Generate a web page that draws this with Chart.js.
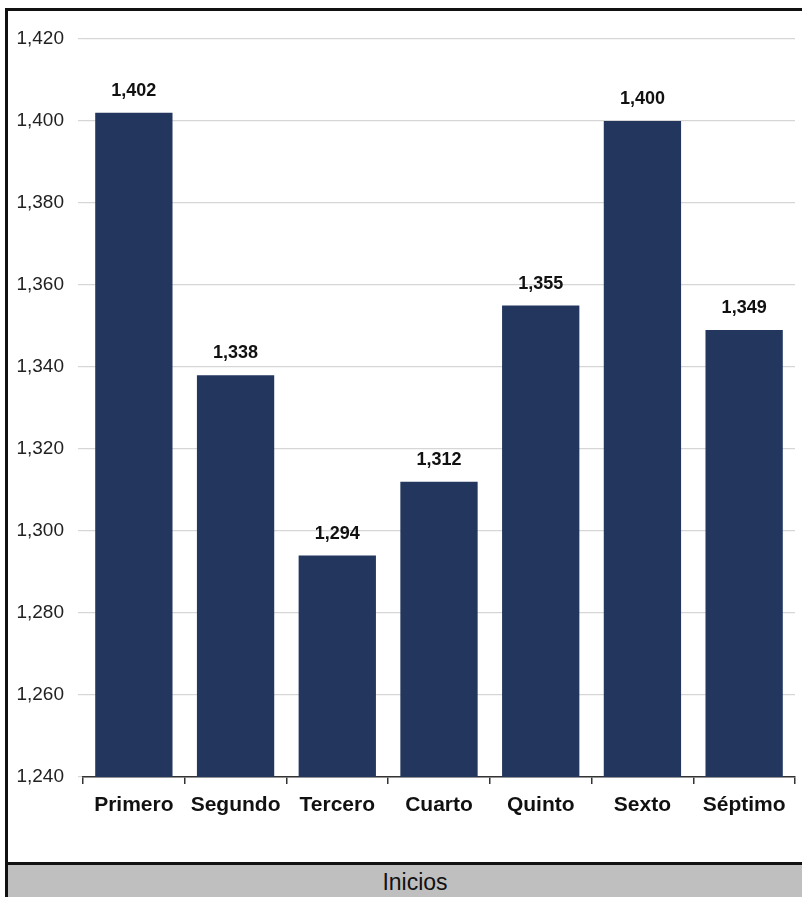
<!DOCTYPE html>
<html>
<head>
<meta charset="utf-8">
<script src="https://cdn.jsdelivr.net/npm/chart.js@4.4.1/dist/chart.umd.min.js"></script>
<style>
  html, body { margin: 0; padding: 0; background: #fff; width: 802px; height: 897px; overflow: hidden; }
  #frame { position: absolute; left: 5px; top: 8px; width: 800px; height: 851px;
           border-left: 3px solid #111; border-top: 3px solid #111; border-bottom: 3px solid #111; }
  #band { position: absolute; left: 5px; top: 865px; width: 800px; height: 32px;
          border-left: 3px solid #111; background: #bfbfbf;
          font: 23px "Liberation Sans", Arial, sans-serif; color: #111; text-align: center; line-height: 34px; }
  #band span { display: inline-block; margin-left: 14px; }
  #wrap { position: absolute; left: 0; top: 0; width: 802px; height: 855px; }
</style>
</head>
<body>
<div id="frame"></div>
<div id="band"><span>Inicios</span></div>
<div id="wrap"><canvas id="c" width="802" height="855"></canvas></div>
<script>
const categories = ["Primero", "Segundo", "Tercero", "Cuarto", "Quinto", "Sexto", "Séptimo"];
const values = [1402, 1338, 1294, 1312, 1355, 1400, 1349];
const yMin = 1240, yMax = 1420, yStep = 20;

const fmt = v => v.toLocaleString('en-US');

const valueLabels = {
  id: 'valueLabels',
  afterDatasetsDraw(chart) {
    const ctx = chart.ctx;
    const meta = chart.getDatasetMeta(0);
    ctx.save();
    ctx.font = 'bold 18px "Liberation Sans", Arial, sans-serif';
    ctx.fillStyle = '#111';
    ctx.textAlign = 'center';
    ctx.textBaseline = 'alphabetic';
    meta.data.forEach((bar, i) => {
      ctx.fillText(fmt(values[i]), bar.x, bar.y - 17);
    });
    ctx.restore();
  }
};

new Chart(document.getElementById('c'), {
  type: 'bar',
  data: {
    labels: categories,
    datasets: [{
      data: values,
      backgroundColor: '#22365e',
      borderWidth: 0,
      barPercentage: 0.76,
      categoryPercentage: 1.0
    }]
  },
  options: {
    responsive: false,
    animation: false,
    devicePixelRatio: 1,
    layout: { padding: { left: 0, right: 7, top: 39, bottom: 0 } },
    plugins: { legend: { display: false }, tooltip: { enabled: false } },
    scales: {
      x: {
        offset: true,
        grid: { display: true, drawOnChartArea: false, offset: true, tickLength: 7, color: '#333', lineWidth: 1.5 },
        border: { display: true, color: '#333', width: 1.5 },
        ticks: { color: '#111', padding: 9, font: { family: '"Liberation Sans", Arial, sans-serif', size: 21, weight: 'bold' } },
        afterFit(scale) { scale.height = 78; }
      },
      y: {
        min: yMin, max: yMax,
        grid: { color: '#d6d6d6', lineWidth: 1.2, tickLength: 5 },
        border: { display: false },
        ticks: {
          stepSize: yStep,
          color: '#222',
          padding: 14,
          font: { family: '"Liberation Sans", Arial, sans-serif', size: 19 },
          callback: v => fmt(v)
        },
        afterFit(scale) { scale.width = 83; }
      }
    }
  },
  plugins: [valueLabels]
});
</script>
</body>
</html>
